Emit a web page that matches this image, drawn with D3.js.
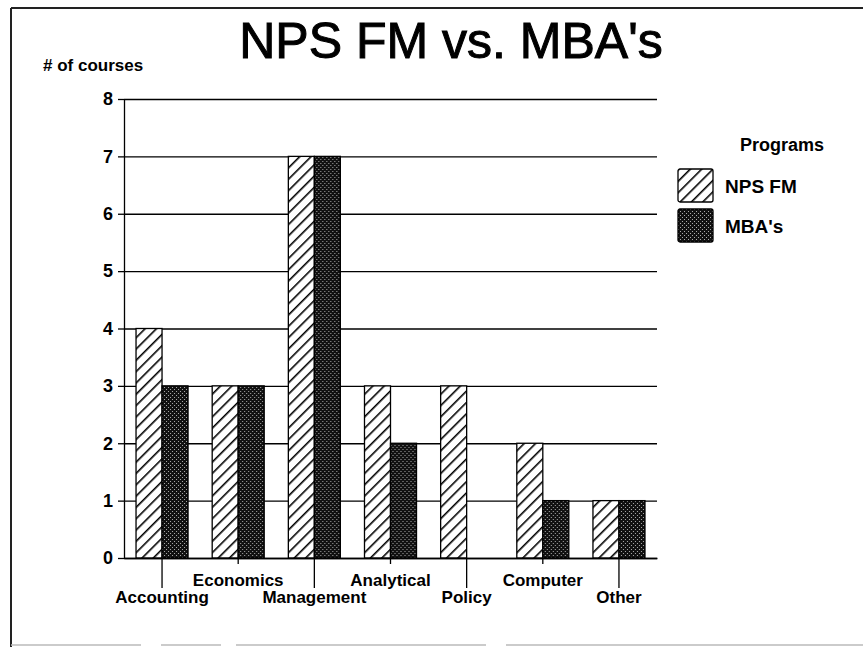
<!DOCTYPE html>
<html>
<head>
<meta charset="utf-8">
<script src="https://cdn.jsdelivr.net/npm/d3@7"></script>
<style>
  body { margin: 0; background: #fff; }
  text { font-family: "Liberation Sans", Arial, sans-serif; }
</style>
</head>
<body>
<div id="my_dataviz"></div>
<script>
// data
var categories = ["Accounting", "Economics", "Management", "Analytical", "Policy", "Computer", "Other"];
var programs = ["NPS FM", "MBA's"];
var npsFM = [4, 3, 7, 3, 3, 2, 1];
var mbas = [3, 3, 7, 2, 0, 1, 1];
var yTicks = [0, 1, 2, 3, 4, 5, 6, 7, 8];

var W = 863, H = 647;
var margin = {top: 99, right: 206, bottom: 89, left: 124},
    width = W - margin.left - margin.right,
    height = H - margin.top - margin.bottom;

var svg = d3.select("#my_dataviz")
  .append("svg")
    .attr("width", W)
    .attr("height", H);

// patterns
var defs = svg.append("defs");
var hatch = defs.append("pattern")
    .attr("id", "hatch")
    .attr("patternUnits", "userSpaceOnUse")
    .attr("width", 8).attr("height", 8)
    .attr("patternTransform", "rotate(45)");
hatch.append("rect").attr("width", 8).attr("height", 8).attr("fill", "#fff");
hatch.append("line")
    .attr("x1", 0).attr("y1", 0).attr("x2", 0).attr("y2", 8)
    .attr("stroke", "#000").attr("stroke-width", 3.2);

var dots = defs.append("pattern")
    .attr("id", "dots")
    .attr("patternUnits", "userSpaceOnUse")
    .attr("width", 4).attr("height", 4);
dots.append("rect").attr("width", 4).attr("height", 4).attr("fill", "#111");
dots.append("rect").attr("x", 0).attr("y", 0).attr("width", 1).attr("height", 1).attr("fill", "#aaa");
dots.append("rect").attr("x", 2).attr("y", 2).attr("width", 1).attr("height", 1).attr("fill", "#aaa");

var fills = {"NPS FM": "url(#hatch)", "MBA's": "url(#dots)"};

// frame of the scanned page
svg.append("line").attr("x1", 11).attr("y1", 8).attr("x2", W).attr("y2", 8)
    .attr("stroke", "#222").attr("stroke-width", 2);
svg.append("line").attr("x1", 11).attr("y1", 8).attr("x2", 11).attr("y2", H)
    .attr("stroke", "#222").attr("stroke-width", 2);
svg.append("line").attr("x1", 11).attr("y1", 645).attr("x2", W).attr("y2", 645)
    .attr("stroke", "#bbb").attr("stroke-width", 1.5).attr("stroke-dasharray", "130,20,60,15,250,20,400,6");

// title
svg.append("text")
    .attr("x", 451).attr("y", 58)
    .attr("text-anchor", "middle")
    .attr("stroke", "#000").attr("stroke-width", 1)
    .style("font-size", "50px")
    .text("NPS FM vs. MBA's");

svg.append("text")
    .attr("x", 43).attr("y", 71)
    .style("font-size", "17px").style("font-weight", "bold")
    .text("# of courses");

var g = svg.append("g")
    .attr("transform", "translate(" + margin.left + "," + margin.top + ")");

var x = d3.scaleBand()
    .domain(categories)
    .range([0, width])
    .paddingInner(0.317)
    .paddingOuter(0.158);

var x1 = d3.scaleBand()
    .domain(programs)
    .range([0, x.bandwidth()]);

var y = d3.scaleLinear()
    .domain([0, 8])
    .range([height, 0]);

// gridlines
g.append("g")
    .call(d3.axisLeft(y).tickValues(yTicks).tickSize(-width).tickFormat(""))
    .call(function(a) { a.select(".domain").remove(); })
    .selectAll("line")
      .attr("stroke", "#000").attr("stroke-width", 1.3);

// y axis
var yAxis = g.append("g")
    .call(d3.axisLeft(y).tickValues(yTicks).tickSize(6).tickPadding(5).tickSizeOuter(0));
yAxis.select(".domain").attr("stroke", "#000").attr("stroke-width", 1.3);
yAxis.selectAll("line").attr("stroke", "#000").attr("stroke-width", 1.3);
yAxis.selectAll("text")
    .style("font-size", "18px").style("font-weight", "bold")
    .style("font-family", "'Liberation Sans', Arial, sans-serif")
    .attr("fill", "#000");

// bars
var rows = categories.map(function(c, i) {
  return {cat: c, vals: [{key: "NPS FM", value: npsFM[i]}, {key: "MBA's", value: mbas[i]}]};
});

g.append("g")
  .selectAll("g")
  .data(rows)
  .enter().append("g")
    .attr("transform", function(d) { return "translate(" + x(d.cat) + ",0)"; })
  .selectAll("rect")
  .data(function(d) { return d.vals.filter(function(v) { return v.value > 0; }); })
  .enter().append("rect")
    .attr("x", function(d) { return x1(d.key); })
    .attr("y", function(d) { return y(d.value); })
    .attr("width", x1.bandwidth())
    .attr("height", function(d) { return height - y(d.value); })
    .attr("fill", function(d) { return fills[d.key]; })
    .attr("stroke", "#000")
    .attr("stroke-width", 1.3);

// x axis, labels staggered on two rows
var xAxis = g.append("g")
    .attr("transform", "translate(0," + height + ")")
    .call(d3.axisBottom(x).tickSizeOuter(0));
xAxis.select(".domain").attr("stroke", "#000").attr("stroke-width", 1.3);
xAxis.selectAll(".tick line")
    .attr("stroke", "#000").attr("stroke-width", 1.3)
    .attr("y2", function(d, i) { return i % 2 === 0 ? 30 : 6; });
xAxis.selectAll(".tick text")
    .attr("y", function(d, i) { return i % 2 === 0 ? 45 : 28; })
    .attr("dy", 0)
    .attr("fill", "#000")
    .style("font-size", "17px").style("font-weight", "bold")
    .style("font-family", "'Liberation Sans', Arial, sans-serif");

// legend
var legend = svg.append("g").attr("transform", "translate(678,0)");
legend.append("text")
    .attr("x", 62).attr("y", 151)
    .style("font-size", "18px").style("font-weight", "bold")
    .text("Programs");

var items = legend.selectAll(".item")
  .data(programs)
  .enter().append("g")
    .attr("class", "item")
    .attr("transform", function(d, i) { return "translate(0," + (169 + i * 40) + ")"; });
items.append("rect")
    .attr("width", 35).attr("height", 33).attr("rx", 2)
    .attr("fill", function(d) { return fills[d]; })
    .attr("stroke", "#000").attr("stroke-width", 1.3);
items.append("text")
    .attr("x", 47).attr("y", 24)
    .style("font-size", "19px").style("font-weight", "bold")
    .text(function(d) { return d; });
</script>
</body>
</html>
